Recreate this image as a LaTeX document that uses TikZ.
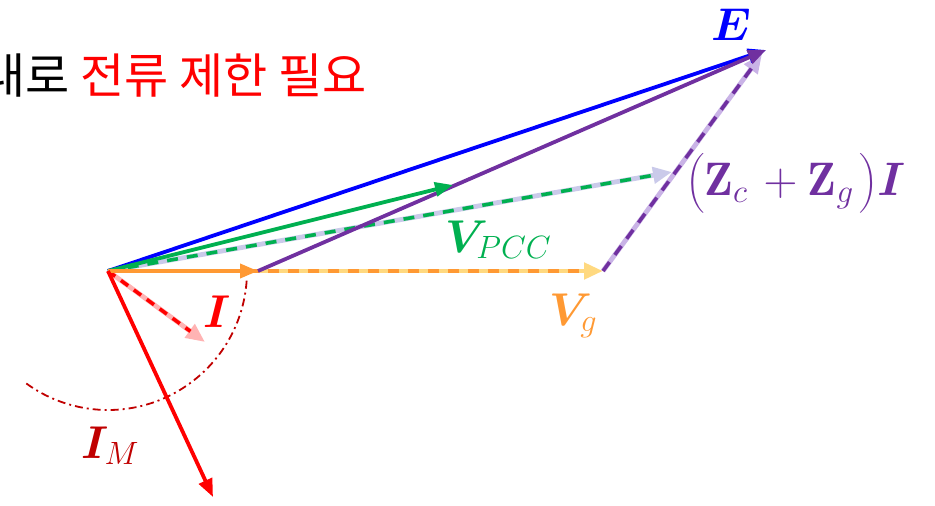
\RequirePackage{fix-cm}
\documentclass[tikz,border=0pt]{standalone}
\usepackage{amsmath,bm}
\usepackage{fontspec}
\newfontfamily\kr{Noto Sans CJK KR}
\usetikzlibrary{arrows.meta}
\definecolor{cblue}{HTML}{0000FF}
\definecolor{cpurple}{HTML}{7030A0}
\definecolor{clav}{HTML}{C9B3E6}
\definecolor{cgreen}{HTML}{00B050}
\definecolor{cgray}{HTML}{CACAEA}
\definecolor{corange}{HTML}{FF9933}
\definecolor{cyellow}{HTML}{FFD980}
\definecolor{cred}{HTML}{FF0000}
\definecolor{cpink}{HTML}{FFB3B3}
\definecolor{cdred}{HTML}{C00000}
\tikzset{
  solidvec/.style={line width=3.8pt,-{Triangle[length=18pt,width=14pt]}},
  undervec/.style={line width=4.8pt,-{Triangle[length=19pt,width=16pt]}},
  overdash/.style={line width=3.6pt,dash pattern=on 11pt off 9pt,shorten >=18pt},
  lab/.style={anchor=base west,inner sep=0pt,font=\fontsize{46}{50}\selectfont}
}
\begin{document}
\begin{tikzpicture}[x=1pt,y=1pt]
\useasboundingbox (0,0) rectangle (935,-506);
% points
\coordinate (O) at (108,-271);
\coordinate (A) at (258,-271);
\coordinate (G) at (603,-271);
\coordinate (E) at (766,-50);
\coordinate (Ep) at (762,-54);
\coordinate (Vs) at (453,-185);
\coordinate (Vp) at (672,-172);
\coordinate (Ip) at (205,-342);
\coordinate (Im) at (213,-497);
% dashed vectors
\draw[undervec,cgray] (O) -- (Vp);
\draw[overdash,cgreen] (O) -- (Vp);
\draw[undervec,cyellow] (O) -- (G);
\draw[overdash,corange] (O) -- (G);
\draw[undervec,clav] (G) -- (Ep);
\draw[overdash,cpurple] (G) -- (Ep);
\draw[undervec,cpink] (O) -- (Ip);
\draw[overdash,cred,dash pattern=on 9pt off 7pt] (O) -- (Ip);
% arc
\draw[cdred,line width=1.8pt,dash pattern=on 8pt off 4pt on 2pt off 4pt]
  ([shift={(-4:139)}]O) arc[start angle=-4,end angle=-126,radius=139pt];
% solid vectors
\draw[solidvec,cblue] (O) -- (E);
\draw[solidvec,cpurple] (A) -- (E);
\draw[solidvec,cgreen] (O) -- (Vs);
\draw[solidvec,corange] (O) -- (A);
\draw[solidvec,cred] (O) -- (Im);
% labels
\node[lab,text=cblue] (lE) at (711,-40) {$\bm{E}$};
\node[lab,text=cpurple,font=\fontsize{47}{50}\selectfont] (lZ) at (686,-195)
  {$\bigl(\mathbf{Z}_{c\,}+\mathbf{Z}_{g\,}\bigr)\bm{I}$};
\node[lab,text=cgreen] (lV) at (445,-252) {$\bm{V}_{PCC}$};
\node[lab,text=corange] (lVg) at (549,-325) {$\bm{V}_{g}$};
\node[lab,text=cred] (lI) at (203,-327) {$\bm{I}$};
\node[lab,text=cdred] (lIM) at (81,-458) {$\bm{I}_{M}$};
\node[anchor=base west,inner sep=0pt,font=\kr\fontsize{48}{52}\selectfont] (kt) at (-19,-93)
  {내로 \textcolor{cred}{전류 제한 필요}};
\end{tikzpicture}
\end{document}
